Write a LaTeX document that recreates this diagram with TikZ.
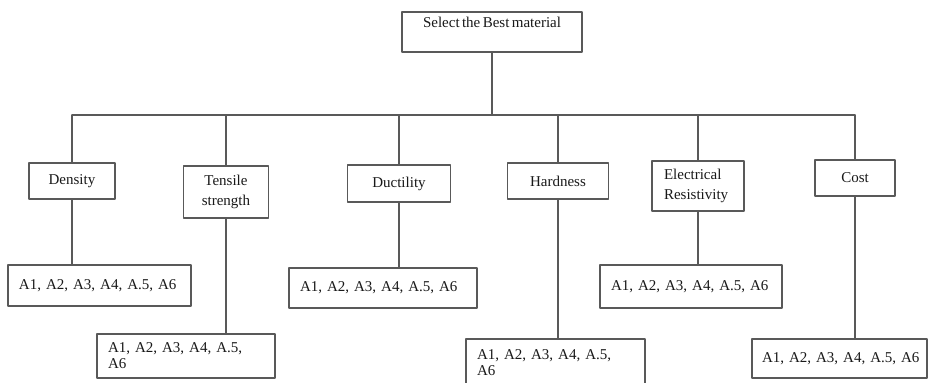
\documentclass[tikz,border=0pt]{standalone}
\usepackage{fontspec}
\setmainfont{Liberation Serif}
\usepackage{tikz}
\definecolor{linegray}{rgb}{0.35,0.35,0.35}
\newcommand{\critfont}{\fontsize{15}{20}\selectfont\frenchspacing\spaceskip=0.16em plus 0.1em}
\newcommand{\altfont}{\fontsize{15}{16}\selectfont\frenchspacing\spaceskip=0.16em plus 0.1em}

\begin{document}
\begin{tikzpicture}[line cap=round,line join=round,x=1pt,y=1pt,
	box/.style={draw=linegray,line width=1.2pt,fill=white,inner sep=0pt,font=\critfont,text=black!90},
	critbox/.style={box,align=center},
	lbox/.style={box,align=left,inner xsep=11pt,font=\altfont},
	link/.style={draw=linegray,line width=1.2pt}]
	\useasboundingbox (0,0) rectangle (930,-383);
	% goal
	\node[critbox,minimum width=180,minimum height=40] (goal) at (492,-32) {Select the Best material\\\mbox{}};
	\coordinate (bus) at (0,-115);
	% criteria
	\node[critbox,minimum width=86,minimum height=36] (dens) at (72,-181) {Density};
	\node[critbox,minimum width=85,minimum height=52] (tens) at (226,-192) {Tensile\\strength};
	\node[critbox,minimum width=103,minimum height=37] (duct) at (399,-183.5) {Ductility};
	\node[critbox,minimum width=101,minimum height=36] (hard) at (558,-181) {Hardness};
	\node[box,align=left,inner xsep=12pt,text width=68,minimum height=50] (elec) at (698,-186) {Electrical\\Resistivity};
	\node[critbox,minimum width=80,minimum height=36] (cost) at (855,-178) {Cost};
	% alternatives
	\node[lbox,text width=161,minimum height=41] (altdens) at (99.5,-285.5) {A1, A2, A3, A4, A.5, A6};
	\node[lbox,text width=156,minimum height=44] (alttens) at (186,-356) {A1, A2, A3, A4, A.5,\\A6};
	\node[lbox,text width=166,minimum height=40] (altduct) at (383,-288) {A1, A2, A3, A4, A.5, A6};
	\node[lbox,text width=157,minimum height=47] (althard) at (555.5,-362.5) {A1, A2, A3, A4, A.5,\\A6};
	\node[lbox,text width=160,minimum height=43] (altelec) at (691,-286.5) {A1, A2, A3, A4, A.5, A6};
	\node[lbox,inner xsep=10pt,text width=155,minimum height=39] (altcost) at (839.5,-358.5) {\mbox{A1, A2, A3, A4, A.5, A6}};
	% tree
	\draw[link] (goal.south) -- (goal.south |- bus);
	\draw[link] (dens.north |- bus) -- (cost.north |- bus);
	\foreach \c in {dens,tens,duct,hard,elec,cost}
		\draw[link] (\c.north |- bus) -- (\c.north);
	\foreach \c/\a in {dens/altdens,tens/alttens,duct/altduct,hard/althard,elec/altelec,cost/altcost}
		\draw[link] (\c.south) -- (\c.south |- \a.north);
\end{tikzpicture}
\end{document}
